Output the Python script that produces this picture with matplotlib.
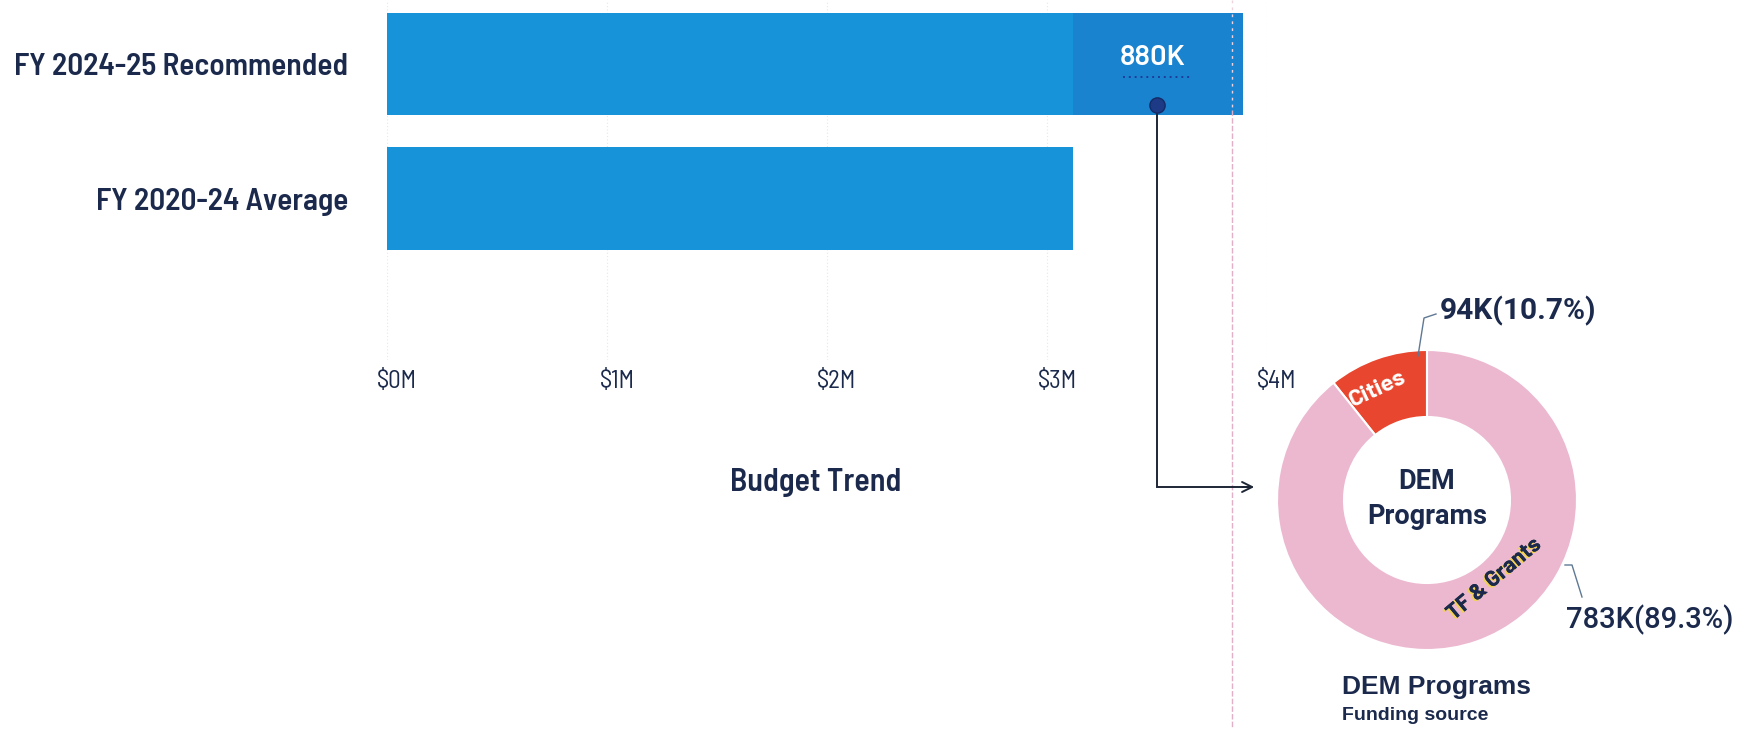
import matplotlib
matplotlib.use('Agg')
import matplotlib.pyplot as plt
from matplotlib.transforms import ScaledTranslation
import matplotlib.patheffects as pe

# ---------------- data ----------------
categories = ['FY 2024-25 Recommended', 'FY 2020-24 Average']
budget_m = [3.89, 3.12]                 # $M
dem_label = '880K'
xticks = [0, 1, 2, 3, 4]
xtick_labels = ['\\$0M', '\\$1M', '\\$2M', '\\$3M', '\\$4M']
sources = ['Cities', 'TF & Grants']
source_k = [94, 783]
source_pct = [10.7, 89.3]

# ---------------- style ----------------
NAVY = '#1b2a4c'
BLUE = '#1794d9'
BLUE_DK = '#1a83d0'
RED = '#e8462e'
PINK = '#ecb8d0'
COND = ['Barlow Semi Condensed', 'DejaVu Sans']
SANS = ['Barlow', 'DejaVu Sans']
ROB = ['Roboto', 'DejaVu Sans']
LIB = ['Liberation Sans', 'DejaVu Sans']

W, H = 1758, 729
fig = plt.figure(figsize=(W / 100, H / 100), dpi=100)
fig.patch.set_facecolor('white')

# ---------------- bar chart ----------------
ax_left, ax_right, ax_top, ax_bot = 387, 1267, 0, 360
ax = fig.add_axes([ax_left / W, 1 - ax_bot / H, (ax_right - ax_left) / W, (ax_bot - ax_top) / H])
step = 134.5
ax.set_ylim(1 + (ax_bot - 198.5) / step, -(64 - ax_top) / step)
ax.set_xlim(xticks[0], xticks[-1])
ypos = list(range(len(categories)))
ax.barh(ypos, budget_m, height=0.76, color=BLUE, zorder=2)
ax.barh(0, budget_m[0] - budget_m[1], left=budget_m[1], height=0.76, color=BLUE_DK, zorder=3)

ax.set_xticks(xticks)
ax.set_xticklabels([])
off = ScaledTranslation(10 / 100, 0, fig.dpi_scale_trans)
for xv, lab in zip(xticks, xtick_labels):
    ax.text(xv, 1 - 382 / (ax_bot - ax_top), lab, transform=ax.get_xaxis_transform() + off,
            ha='center', va='center', family=COND, fontsize=18, color=NAVY)
ax.set_yticks(ypos)
ax.set_yticklabels(categories, family=COND, fontsize=22.5, fontweight='semibold', color=NAVY)
ax.tick_params(axis='both', length=0)
ax.tick_params(axis='y', pad=28)
for s in ax.spines.values():
    s.set_visible(False)
ax.set_facecolor('none')
ax.grid(axis='x', color='#e8e8e8', linestyle=(0, (1, 2)), linewidth=0.8, zorder=0)

# value label inside the highlighted segment
rec_end = budget_m[0]
ax.text(rec_end - 0.41, 0 - 0.05, dem_label, ha='center', va='center', fontsize=21,
        fontweight='semibold', color='white', family=SANS, zorder=5)

# ---------------- overlay (pixel coordinates) ----------------
ov = fig.add_axes([0, 0, 1, 1], zorder=5)
ov.set_xlim(0, W)
ov.set_ylim(H, 0)
ov.axis('off')
ov.patch.set_alpha(0)

# faint pink vertical separator
ov.plot([1232, 1232], [0, 110], color='#eed3df', lw=1.0, linestyle=(0, (2, 3)), zorder=1)
ov.plot([1232, 1232], [110, H], color='#e2b0c6', lw=1.0, linestyle=(0, (4, 1.5)), zorder=1)
# dotted underline below 880K
ov.plot([1123, 1192], [77, 77], color='#1f3d9a', lw=1.4, linestyle=(0, (1, 2)), zorder=6)
# connector
ov.plot([1157, 1157, 1248], [105, 487, 487], color='#1e2636', lw=1.4, zorder=4, solid_joinstyle='miter')
ov.annotate('', xy=(1257, 487), xytext=(1240, 487),
            arrowprops=dict(arrowstyle='->', color='#1e2636', lw=1.4, mutation_scale=18))
ov.plot([1157], [105], marker='o', markersize=11, color='#1d3a86', markeredgecolor='#142a66', zorder=6)

ov.text(816, 482, 'Budget Trend', ha='center', va='center', fontsize=23, fontweight='semibold',
        color=NAVY, family=COND)

# ---------------- donut ----------------
cx, cy, half = 1427, 500, 160
dax = fig.add_axes([(cx - half) / W, 1 - (cy + half) / H, 2 * half / W, 2 * half / H], zorder=3)
dax.pie(source_k, colors=[RED, PINK], startangle=90, counterclock=True, radius=150 / half,
        wedgeprops=dict(width=67 / half, edgecolor='white', linewidth=1.5))
dax.set_xlim(-1, 1)
dax.set_ylim(-1, 1)
dax.set_aspect('equal')
dax.axis('off')

ov.text(cx, 481, 'DEM', ha='center', va='center', fontsize=19.5, fontweight='bold', color=NAVY, family=ROB, zorder=7)
ov.text(cx, 516, 'Programs', ha='center', va='center', fontsize=19.5, fontweight='bold', color=NAVY, family=ROB, zorder=7)

ov.text(1378, 389, sources[0], ha='center', va='center', rotation=25, fontsize=17, fontweight='bold',
        color='white', family=SANS, zorder=7)
ov.text(1494, 579, sources[1], ha='center', va='center', rotation=40, fontsize=16, fontweight='bold',
        color=NAVY, family=SANS, zorder=7,
        path_effects=[pe.withSimplePatchShadow(offset=(-1.2, -1.2), shadow_rgbFace='#f2d34a', alpha=0.9),
                      pe.Normal()])

# leader lines + value labels
LEAD = '#5f7894'
ov.plot([1418, 1424, 1436], [356, 318, 314], color=LEAD, lw=1.0, zorder=6)
ov.text(1440, 311, f'{source_k[0]}K({source_pct[0]}%)', ha='left', va='center', fontsize=21.5,
        fontweight='bold', color=NAVY, family=ROB, zorder=7)
ov.plot([1565, 1572, 1582], [565, 565, 597], color=LEAD, lw=1.0, zorder=6)
ov.text(1566, 620, f'{source_k[1]}K({source_pct[1]}%)', ha='left', va='center', fontsize=21,
        fontweight='medium', color=NAVY, family=ROB, zorder=7)

ov.text(1342, 687, 'DEM Programs', ha='left', va='center', fontsize=19, fontweight='bold',
        color=NAVY, family=LIB, zorder=7)
ov.text(1342, 715, 'Funding source', ha='left', va='center', fontsize=14, fontweight='bold',
        color=NAVY, family=LIB, zorder=7)

fig.savefig('out.png', dpi=100, facecolor='white')
